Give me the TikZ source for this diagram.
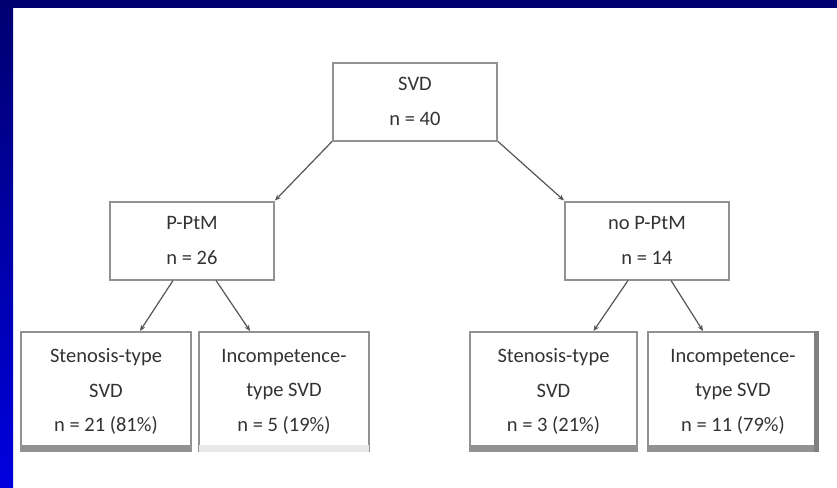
\documentclass[tikz,border=0pt]{standalone}
\usepackage{fontspec}
\setmainfont{Carlito}
\usetikzlibrary{arrows.meta}

\definecolor{navy}{RGB}{0,0,112}
\definecolor{deepblue}{RGB}{0,0,222}
\definecolor{boxgray}{RGB}{146,146,146}
\definecolor{lightbar}{RGB}{233,233,233}
\definecolor{textgray}{RGB}{51,51,51}
\definecolor{arrowgray}{RGB}{85,85,85}

\begin{document}
\begin{tikzpicture}[x=1pt, y=-1pt,
    box/.style={draw=boxgray, line width=2pt, fill=white, align=center,
      text=textgray, inner sep=0pt, font=\fontsize{20.5}{34.5}\selectfont},
    topbox/.style={box, minimum width=164pt, minimum height=78pt},
    leafbox/.style={box, minimum height=119pt},
    arr/.style={draw=arrowgray, line width=1.2pt, -{Stealth[length=6pt,width=5pt]}}]
        \useasboundingbox (0,0) rectangle (837,487);
        \fill[white] (0,0) rectangle (837,487);
        \fill[navy] (0,0) rectangle (837,8);
        \shade[top color=navy, bottom color=deepblue] (0,0) rectangle (13,487);

        % root and second level
        \node[topbox] (svd) at (415,101.5) {SVD\\n = 40};
        \node[topbox] (ptm) at (192,240.5) {P-PtM\\n = 26};
        \node[topbox] (noptm) at (647,240.5) {no P-PtM\\n = 14};

        % leaves
        \node[leafbox, minimum width=170pt] (sten1) at (106,391.5) {Stenosis-type\\SVD\\n = 21 (81\%)};
        \node[leafbox, minimum width=170pt] (inc1) at (284,391.5) {Incompetence-\\type SVD\\n = 5 (19\%)};
        \node[leafbox, minimum width=167pt] (sten2) at (553.5,391.5) {Stenosis-type\\SVD\\n = 3 (21\%)};
        \node[leafbox, minimum width=170pt] (inc2) at (733,391.5) {Incompetence-\\type SVD\\n = 11 (79\%)};

        % shadow bars
        \draw[boxgray, line width=7pt] ([yshift=3.5pt]sten1.south west) -- ([yshift=3.5pt]sten1.south east);
        \draw[lightbar, line width=7pt] ([xshift=1pt,yshift=3.5pt]inc1.south west) -- ([xshift=-1pt,yshift=3.5pt]inc1.south east);
        \draw[boxgray, line width=7pt] ([yshift=3.5pt]sten2.south west) -- ([yshift=3.5pt]sten2.south east);
        \draw[boxgray, line width=7pt] ([yshift=3.5pt]inc2.south west) -- ([yshift=3.5pt]inc2.south east);
        \draw[black!50, line width=5pt] ([xshift=-2.5pt]inc2.north east) -- ([xshift=-2.5pt]inc2.south east);

        % connectors
        \draw[arr] (svd.south west) -- (ptm.north east);
        \draw[arr] (svd.south east) -- (noptm.north west);
        \draw[arr] ([xshift=-19pt]ptm.south) -- ([xshift=34pt]sten1.north);
        \draw[arr] ([xshift=24pt]ptm.south) -- ([xshift=-34pt]inc1.north);
        \draw[arr] ([xshift=-19pt]noptm.south) -- ([xshift=40pt]sten2.north);
        \draw[arr] ([xshift=24pt]noptm.south) -- ([xshift=-30pt]inc2.north);
\end{tikzpicture}
\end{document}
